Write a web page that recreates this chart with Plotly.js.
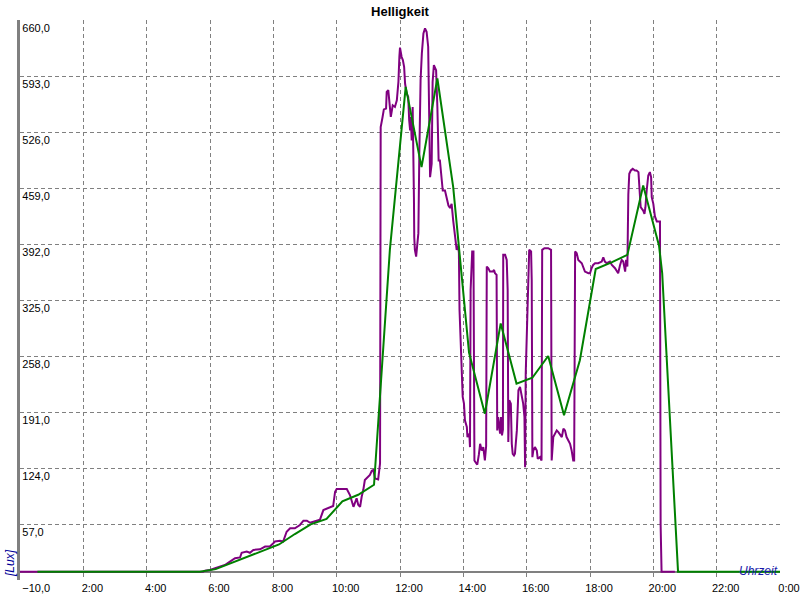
<!DOCTYPE html>
<html>
<head>
<meta charset="utf-8">
<script src="https://cdn.plot.ly/plotly-3.0.1.min.js"></script>
<style>html,body{margin:0;padding:0;background:#fff;}#chart{width:800px;height:600px;}</style>
</head>
<body>
<div id="chart"></div>
<script>
// Tick labels
var xTickVals = [0, 2, 4, 6, 8, 10, 12, 14, 16, 18, 20, 22, 24];
var xTickText = ['', '2:00', '4:00', '6:00', '8:00', '10:00', '12:00', '14:00', '16:00', '18:00', '20:00', '22:00', '0:00'];
var yTickVals = [-10, 57, 124, 191, 258, 325, 392, 459, 526, 593, 660];

// Measured brightness (purple), time in hours, value in Lux
var measTime = [0, 5.78, 5.84, 6.00, 6.16, 6.32, 6.47, 6.63, 6.79, 6.95, 7.00, 7.16, 7.26, 7.37, 7.58, 7.74, 7.89, 8.00, 8.05, 8.21, 8.31, 8.42, 8.53, 8.68, 8.84, 8.95, 9.06, 9.16, 9.25, 9.37, 9.47, 9.58, 9.74, 9.89, 9.95, 10.00, 10.32, 10.37, 10.42, 10.53, 10.58, 10.63, 10.68, 10.74, 10.79, 10.84, 10.89, 10.95, 11.05, 11.11, 11.16, 11.21, 11.31, 11.37, 11.39, 11.45, 11.49, 11.56, 11.58, 11.63, 11.66, 11.71, 11.77, 11.84, 11.90, 11.95, 11.98, 12.00, 12.05, 12.09, 12.13, 12.16, 12.21, 12.26, 12.29, 12.32, 12.34, 12.37, 12.40, 12.42, 12.44, 12.45, 12.47, 12.51, 12.55, 12.58, 12.61, 12.63, 12.65, 12.69, 12.74, 12.79, 12.84, 12.89, 12.93, 12.95, 13.00, 13.03, 13.07, 13.14, 13.18, 13.22, 13.26, 13.32, 13.35, 13.42, 13.49, 13.53, 13.58, 13.63, 13.68, 13.74, 13.79, 13.84, 13.86, 13.88, 13.95, 13.98, 14.02, 14.05, 14.11, 14.13, 14.19, 14.21, 14.23, 14.28, 14.32, 14.34, 14.35, 14.40, 14.44, 14.49, 14.53, 14.58, 14.63, 14.68, 14.72, 14.74, 14.79, 14.84, 14.93, 14.97, 15.00, 15.05, 15.07, 15.10, 15.16, 15.19, 15.22, 15.25, 15.26, 15.32, 15.37, 15.40, 15.42, 15.45, 15.50, 15.53, 15.56, 15.60, 15.63, 15.69, 15.74, 15.79, 15.84, 15.89, 15.93, 15.95, 15.97, 16.02, 16.05, 16.08, 16.14, 16.16, 16.18, 16.21, 16.26, 16.32, 16.35, 16.42, 16.47, 16.49, 16.56, 16.68, 16.77, 16.79, 16.84, 16.89, 16.95, 17.00, 17.11, 17.16, 17.21, 17.26, 17.31, 17.37, 17.42, 17.47, 17.50, 17.53, 17.58, 17.63, 17.74, 17.79, 17.84, 17.95, 18.00, 18.05, 18.10, 18.16, 18.26, 18.37, 18.42, 18.47, 18.53, 18.63, 18.69, 18.79, 18.84, 18.89, 18.95, 19.00, 19.05, 19.11, 19.14, 19.18, 19.21, 19.24, 19.29, 19.35, 19.42, 19.47, 19.53, 19.56, 19.60, 19.64, 19.68, 19.72, 19.75, 19.79, 19.84, 19.89, 19.93, 19.95, 20.00, 20.05, 20.11, 20.19, 20.21, 20.23, 20.26, 20.68];
var measLux = [0, 0, 1, 2, 4, 6, 8, 12, 16, 17, 22.6, 24, 22.6, 26, 26.7, 30, 30, 34, 36, 37, 36, 47.7, 51.8, 51.8, 55.8, 61, 61, 58.5, 59.5, 61, 62, 73.7, 75.7, 78.5, 95.6, 98.8, 98.8, 95, 91.6, 77.6, 82, 87.7, 80, 77.6, 89.6, 97.6, 109.6, 111.6, 115.6, 120.7, 121.6, 111.6, 110.4, 129.6, 532, 544, 553, 554, 574, 576, 560, 544, 558, 556, 564, 586, 616, 627, 616, 612, 604, 584, 572, 568, 540, 528, 544, 516, 556, 520, 448, 400, 385, 377, 397, 405, 500, 540, 588, 620, 644, 650, 646, 628, 540, 472, 488, 586, 606, 600, 556, 492, 492, 468, 456, 456, 445, 438, 435, 440, 420, 400, 385, 390, 381, 313, 249, 209, 201, 181, 173, 161, 165, 149, 337, 383, 383, 289, 133, 130, 128, 140, 153, 145, 149, 133, 150, 365, 363, 359, 359, 361, 357, 355, 169, 185, 165, 185, 163, 170, 379, 379, 373, 337, 155, 205, 201, 153, 141, 139, 141, 169, 217, 221, 209, 201, 185, 125, 237, 301, 357, 385, 383, 349, 137, 145, 149, 145, 135, 137, 133, 385, 387, 387, 385, 133, 161, 165, 169, 167, 161, 171, 169, 161, 157, 153, 145, 133, 133, 383, 381, 373, 369, 363, 359, 357, 357, 363, 367, 369, 369, 371, 376, 371, 369, 371, 367, 363, 359, 357, 367, 373, 371, 359, 373, 365, 451, 476, 480, 482, 480, 480, 478, 460, 436, 434, 432, 428, 436, 456, 474, 478, 472, 448, 440, 425, 419, 419, 419, 56, 0, 0];

// Half-hour average (green)
var avgTime = [0.55, 5.68, 6.18, 6.68, 7.18, 7.68, 8.18, 8.68, 9.18, 9.68, 10.18, 10.68, 11.18, 11.68, 12.18, 12.68, 13.18, 13.68, 14.18, 14.68, 15.18, 15.68, 16.18, 16.68, 17.18, 17.68, 18.18, 18.68, 19.18, 19.68, 20.18, 20.28, 20.78, 24];
var avgLux = [0, 0, 3, 10.5, 18, 25, 32.5, 45, 56.5, 63, 84, 92, 104, 385, 580, 484, 590, 460, 262, 189, 297, 225, 232, 258, 187, 253, 362, 370, 379, 462, 390, 357, 0, 0];

var traces = [
  {x: measTime, y: measLux, type: 'scatter', mode: 'lines', line: {color: '#800080', width: 2}, hoverinfo: 'skip'},
  {x: avgTime, y: avgLux, type: 'scatter', mode: 'lines', line: {color: '#008000', width: 2}, hoverinfo: 'skip'}
];

var gridCol = '#808080';
var layout = {
  width: 800, height: 600,
  margin: {l: 20, r: 20, t: 20, b: 20, pad: 0},
  paper_bgcolor: '#ffffff', plot_bgcolor: '#ffffff',
  separators: ',.',
  showlegend: false,
  hovermode: false,
  font: {family: 'Liberation Sans, Arial, sans-serif', size: 11, color: '#000000'},
  title: {text: '<b>Helligkeit</b>', font: {family: 'Liberation Sans, Arial, sans-serif', size: 13, color: '#000000'},
          x: 0.5, xanchor: 'center', xref: 'paper', y: 1 - 11/600, yanchor: 'middle', yref: 'container'},
  xaxis: {
    range: [0, 24], tickmode: 'array', tickvals: xTickVals, ticktext: xTickText,
    showgrid: true, gridcolor: gridCol, gridwidth: 1, griddash: '4px,3px',
    zeroline: false, showline: false, ticks: '', ticklabelshift: 9, ticklabeloverflow: 'allow',
    tickfont: {size: 11, color: '#000'}, fixedrange: true
  },
  yaxis: {
    range: [-10, 660], tickmode: 'array', tickvals: yTickVals, tickformat: '.1f',
    ticklabelposition: 'inside bottom', ticklabeloverflow: 'allow',
    showgrid: true, gridcolor: gridCol, gridwidth: 1, griddash: '4px,3px',
    zeroline: true, zerolinecolor: gridCol, zerolinewidth: 2,
    showline: true, linecolor: gridCol, linewidth: 3, ticks: '',
    tickfont: {size: 11, color: '#000'}, fixedrange: true
  },
  annotations: [
    {text: '<i>[Lux]</i>', xref: 'paper', yref: 'paper', x: -10/760, y: 17/560, xanchor: 'center', yanchor: 'middle',
     textangle: -90, showarrow: false, font: {size: 12, color: '#000099'}},
    {text: '<i>Uhrzeit</i>', xref: 'paper', yref: 'paper', x: 1, y: 9/560, xanchor: 'right', yanchor: 'middle',
     showarrow: false, font: {size: 12, color: '#1a1aaa'}}
  ]
};

Plotly.newPlot('chart', traces, layout, {staticPlot: true, displayModeBar: false});
</script>
</body>
</html>
